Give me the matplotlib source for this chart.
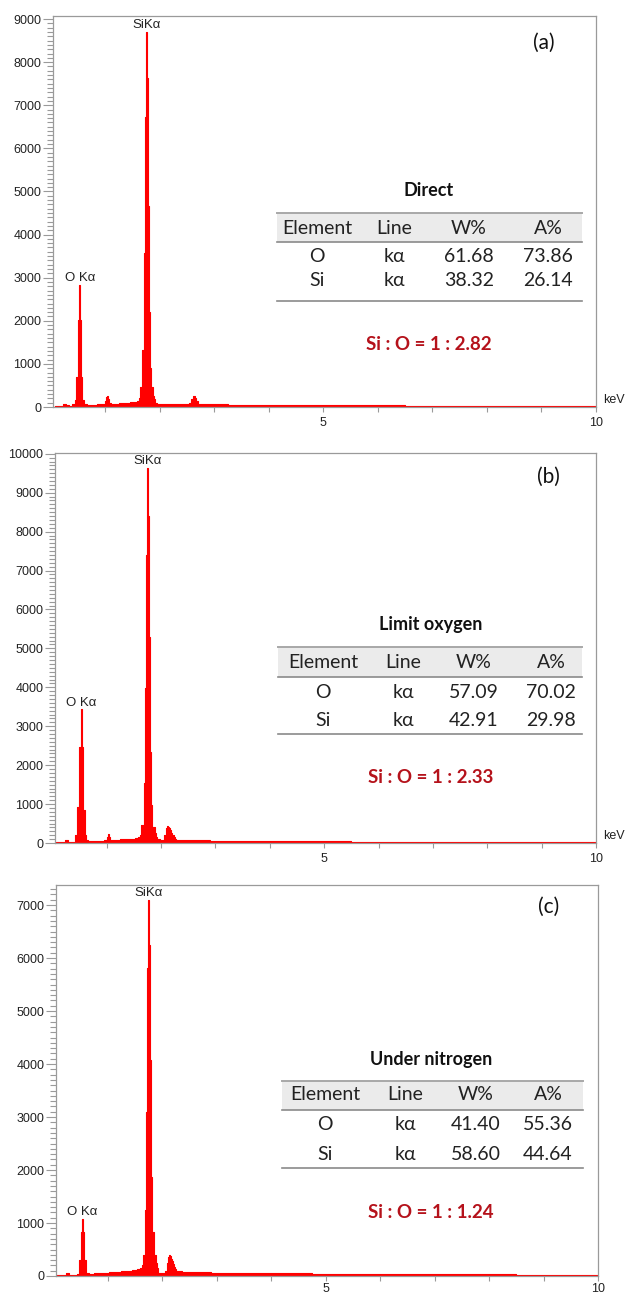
import matplotlib
matplotlib.use("Agg")
import matplotlib.pyplot as plt
from matplotlib.patches import Rectangle
from matplotlib.lines import Line2D
from matplotlib.ticker import MultipleLocator, FixedLocator

W, H = 627, 1295
RED = "#ff0000"
DARKRED = "#b5121b"
GRAY = "#9a9a9a"
SANS = ["Liberation Sans", "DejaVu Sans"]
CAL = ["Lato", "DejaVu Sans"]

# ---------------------------------------------------------------------------
# data
# ---------------------------------------------------------------------------

energy_a = [0.04, 0.10, 0.20, 0.26, 0.30, 0.36, 0.43, 0.45, 0.47, 0.49, 0.51,
            0.53, 0.55, 0.57, 0.59, 0.61, 0.70, 0.80, 0.90, 0.98, 1.00, 1.02,
            1.04, 1.06, 1.08, 1.12, 1.20, 1.30, 1.40, 1.50, 1.56, 1.61, 1.63,
            1.65, 1.67, 1.69, 1.71, 1.73, 1.75, 1.77, 1.79, 1.81, 1.83, 1.85,
            1.87, 1.89, 1.91, 1.93, 1.97, 2.00, 2.10, 2.20, 2.30, 2.40, 2.50,
            2.56, 2.60, 2.62, 2.64, 2.66, 2.68, 2.72, 2.80, 3.00, 3.50, 4.00,
            4.50, 5.00, 6.00, 7.00, 8.00, 9.00, 9.80, 10.0]
counts_a = [10, 15, 25, 70, 35, 25, 60, 170, 700, 700, 2020,
            2830, 2020, 700, 170, 80, 55, 55, 60, 70, 140, 230,
            262, 180, 100, 75, 80, 85, 95, 110, 120, 140, 200,
            460, 460, 1320, 3570, 6735, 8710, 7625, 4660, 2210, 900, 460,
            460, 250, 180, 100, 80, 75, 75, 70, 70, 70, 75,
            90, 180, 250, 262, 200, 130, 80, 65, 60, 55, 50,
            45, 40, 35, 30, 25, 20, 15, 15]

energy_b = [0.05, 0.10, 0.20, 0.26, 0.30, 0.38, 0.45, 0.47, 0.49, 0.51, 0.53,
            0.55, 0.57, 0.59, 0.61, 0.63, 0.70, 0.80, 0.90, 1.00, 1.02, 1.04,
            1.06, 1.08, 1.10, 1.20, 1.30, 1.40, 1.50, 1.56, 1.61, 1.63, 1.65,
            1.67, 1.69, 1.71, 1.73, 1.75, 1.77, 1.79, 1.81, 1.83, 1.85, 1.87,
            1.89, 1.91, 1.95, 2.00, 2.04, 2.08, 2.10, 2.12, 2.14, 2.16, 2.18,
            2.20, 2.22, 2.24, 2.26, 2.30, 2.40, 2.60, 2.80, 3.00, 3.50, 4.00,
            4.50, 5.00, 6.00, 7.00, 8.00, 9.00, 9.80, 10.0]
counts_b = [10, 20, 30, 70, 35, 30, 200, 930, 930, 2460, 3435,
            2460, 850, 850, 200, 80, 40, 40, 45, 80, 160, 220,
            150, 80, 80, 85, 90, 100, 115, 130, 150, 200, 460,
            460, 1530, 3975, 7400, 9630, 8390, 5300, 2350, 975, 420, 420,
            250, 150, 90, 80, 80, 200, 380, 440, 420, 380, 330,
            260, 200, 150, 110, 85, 75, 70, 65, 60, 55, 50,
            45, 40, 35, 30, 25, 20, 15, 15]

energy_c = [0.05, 0.10, 0.20, 0.26, 0.30, 0.40, 0.46, 0.47, 0.49, 0.51, 0.53,
            0.55, 0.57, 0.59, 0.61, 0.70, 0.80, 0.90, 1.00, 1.04, 1.10, 1.20,
            1.30, 1.40, 1.50, 1.56, 1.61, 1.63, 1.65, 1.67, 1.69, 1.71, 1.73,
            1.75, 1.77, 1.79, 1.81, 1.83, 1.85, 1.87, 1.89, 1.91, 1.95, 2.03,
            2.07, 2.09, 2.11, 2.13, 2.15, 2.17, 2.19, 2.21, 2.23, 2.25, 2.27,
            2.31, 2.40, 2.60, 2.80, 3.00, 3.50, 4.00, 4.50, 5.00, 6.00, 7.00,
            8.00, 9.00, 9.80, 10.0]
counts_c = [10, 15, 20, 55, 25, 25, 40, 300, 300, 830, 1085,
            830, 300, 300, 60, 45, 50, 55, 60, 75, 70, 75,
            85, 95, 110, 130, 150, 200, 390, 390, 1240, 3100, 5810,
            7100, 6250, 4075, 1870, 830, 390, 390, 240, 150, 55, 60,
            100, 250, 360, 390, 380, 330, 280, 230, 170, 130, 100,
            85, 80, 75, 70, 65, 60, 55, 50, 45, 40, 35,
            30, 25, 20, 20]

peak_O = 0.53
peak_Si = 1.75

elements = ["Element", "O", "Si"]
lines = ["Line", "kα", "kα"]
wt_a = [61.68, 38.32]
at_a = [73.86, 26.14]
wt_b = [57.09, 42.91]
at_b = [70.02, 29.98]
wt_c = [41.40, 58.60]
at_c = [55.36, 44.64]
titles = ["Direct", "Limit oxygen", "Under nitrogen"]
ratios = ["1 : 2.82", "1 : 2.33", "1 : 1.24"]
panel_tags = ["(a)", "(b)", "(c)"]

# ---------------------------------------------------------------------------
# layout (pixel positions measured on the reference)
# ---------------------------------------------------------------------------

panels = [
    dict(E=energy_a, C=counts_a, wt=wt_a, at=at_a, box=(53, 16, 596, 407),
         xlo=0.04, ymax=9070, kev=True, tag=(544, 43), xpad=4,
         tab=dict(x0=277, x1=582, tx=429, title=190, top=213, hbot=242, hy=228,
                  rows=(257, 280), bot=301, ratio=344, cols=(317, 394, 469, 548))),
    dict(E=energy_b, C=counts_b, wt=wt_b, at=at_b, box=(55, 453, 596, 843),
         xlo=0.05, ymax=10020, kev=True, tag=(548, 477), xpad=4,
         tab=dict(x0=278, x1=582, tx=431, title=625, top=647, hbot=677, hy=662,
                  rows=(692, 720), bot=734, ratio=778, cols=(323, 403, 474, 551))),
    dict(E=energy_c, C=counts_c, wt=wt_c, at=at_c, box=(56, 885, 598, 1276),
         xlo=0.05, ymax=7378, kev=False, tag=(549, 907), xpad=1.5,
         tab=dict(x0=282, x1=583, tx=431, title=1059, top=1081, hbot=1110, hy=1095,
                  rows=(1125, 1154), bot=1168, ratio=1212, cols=(325, 405, 476, 548))),
]


def fx(px):
    return px / W


def fy(py):
    return 1 - py / H


def draw_spectrum(fig, p):
    l, t, r, b = p["box"]
    ax = fig.add_axes([fx(l), fy(b), (r - l) / W, (b - t) / H])
    E, C = p["E"], p["C"]
    ax.fill_between(E, C, step="mid", color=RED, lw=0)
    ax.step(E, C, where="mid", color=RED, lw=0.8)
    ax.set_xlim(p["xlo"], 10)
    ax.set_ylim(0, p["ymax"])

    ax.xaxis.set_major_locator(FixedLocator([5, 10]))
    ax.xaxis.set_minor_locator(MultipleLocator(1))
    ax.yaxis.set_major_locator(MultipleLocator(1000))
    ax.yaxis.set_minor_locator(MultipleLocator(100))
    ax.tick_params(axis="both", which="both", direction="out", color=GRAY,
                   labelcolor="#222222", labelsize=9, width=0.8)
    ax.tick_params(axis="y", which="major", length=7.5, pad=0.8)
    ax.tick_params(axis="y", which="minor", length=4)
    ax.tick_params(axis="x", which="both", length=3.5, pad=p["xpad"])
    for lab in ax.get_xticklabels() + ax.get_yticklabels():
        lab.set_family(SANS)
    for s in ax.spines.values():
        s.set_color(GRAY)
        s.set_linewidth(0.9)

    i_si = E.index(peak_Si)
    i_o = E.index(peak_O)
    ax.annotate("SiKα", (peak_Si, C[i_si]), xytext=(0, 0.5),
                textcoords="offset points", ha="center", va="bottom",
                fontsize=9.5, family=SANS, color="#222222")
    ax.annotate("O Kα", (peak_O, C[i_o]), xytext=(0, 0.5),
                textcoords="offset points", ha="center", va="bottom",
                fontsize=9.5, family=SANS, color="#222222")
    if p["kev"]:
        fig.text(fx(r + 18), fy(b - 7), "keV", ha="center", va="center",
                 fontsize=9, family=SANS, color="#222222")
    return ax


def draw_table(fig, p, title, ratio):
    g = p["tab"]
    fig.patches.append(Rectangle((fx(g["x0"]), fy(g["hbot"])),
                                 (g["x1"] - g["x0"]) / W,
                                 (g["hbot"] - g["top"]) / H,
                                 transform=fig.transFigure, color="#ebebeb",
                                 lw=0, zorder=0))
    for yy, c, lw in ((g["top"], "#a8a8a8", 1.4), (g["hbot"], "#8a8a8a", 1.2),
                      (g["bot"], "#8a8a8a", 1.2)):
        fig.lines.append(Line2D([fx(g["x0"]), fx(g["x1"])], [fy(yy), fy(yy)],
                                transform=fig.transFigure, color=c, lw=lw))
    fig.text(fx(g["tx"]), fy(g["title"]), title, ha="center", va="center",
             fontsize=13, fontweight="bold", family=CAL, color="#111111")
    header = [elements[0], lines[0], "W%", "A%"]
    for cx, txt in zip(g["cols"], header):
        fig.text(fx(cx), fy(g["hy"]), txt, ha="center", va="center",
                 fontsize=14, family=CAL, color="#222222")
    for k, ry in enumerate(g["rows"]):
        vals = [elements[k + 1], lines[k + 1],
                f"{p['wt'][k]:.2f}", f"{p['at'][k]:.2f}"]
        for cx, txt in zip(g["cols"], vals):
            fig.text(fx(cx), fy(ry), txt, ha="center", va="center",
                     fontsize=14, family=CAL, color="#222222")
    fig.text(fx(g["tx"]), fy(g["ratio"]), f"Si : O = {ratio}", ha="center",
             va="center", fontsize=13.5, fontweight="bold", family=CAL,
             color=DARKRED)


fig = plt.figure(figsize=(W / 100, H / 100), dpi=100)
for p, title, ratio, tag in zip(panels, titles, ratios, panel_tags):
    draw_spectrum(fig, p)
    draw_table(fig, p, title, ratio)
    fig.text(fx(p["tag"][0]), fy(p["tag"][1]), tag, ha="center", va="center",
             fontsize=15, family=CAL, color="#111111")

fig.savefig("out.png", dpi=100)
